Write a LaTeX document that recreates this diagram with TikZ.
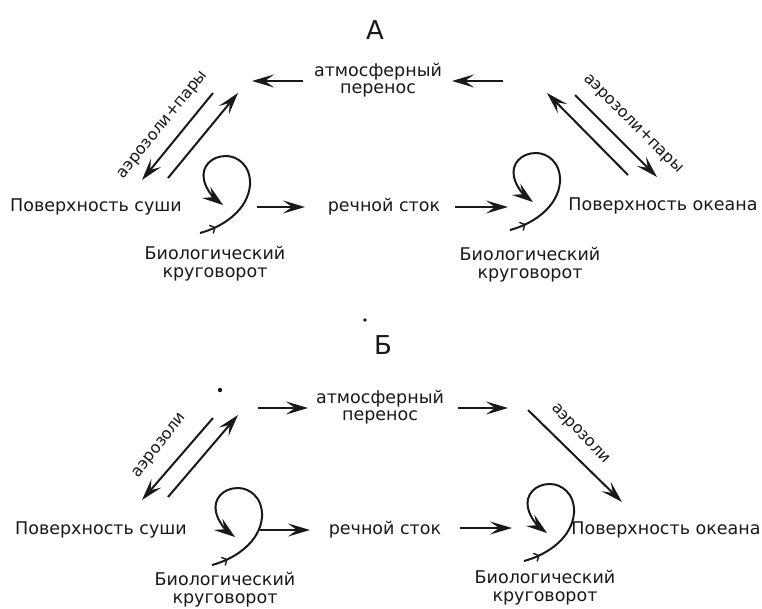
\documentclass[tikz,border=0pt]{standalone}
\usepackage{fontspec}
\setmainfont{DejaVu Sans}
\usetikzlibrary{arrows.meta,decorations.markings}
\tikzset{
  lbl/.style={font=\fontsize{17.5}{16.5}\selectfont, align=center, inner sep=0pt, text=black!90},
  biolbl/.style={font=\fontsize{17.5}{18}\selectfont, align=center, inner sep=0pt, text=black!90},
  rotlbl/.style={font=\fontsize{16}{16}\selectfont, inner sep=0pt, text=black!90},
  ttl/.style={font=\fontsize{26}{26}\selectfont, inner sep=0pt, text=black!90},
  arr/.style={line width=2pt, black!90, -{Stealth[length=22pt,width=13pt,inset=9pt]}},
  biocycle/.pic={
    \draw[line width=2pt, black!90, -{Stealth[length=21pt,width=14pt,inset=8pt]},
      postaction={decorate},
      decoration={markings, mark=at position 0.09 with {\arrow{Straight Barb[length=4pt,width=9pt,line width=1.4pt]}}}]
      (-23,28) .. controls (0,22) and (25,5) .. (27,-20)
      .. controls (28,-40) and (14,-49) .. (3,-49)
      .. controls (-12,-49) and (-22,-38) .. (-19,-25)
      .. controls (-17,-15) and (-8,-6) .. (0,0);
  }
}
\begin{document}
\begin{tikzpicture}[x=1pt,y=-1pt]
\useasboundingbox[fill=white] (0,0) rectangle (762,608);

% ---------------- Panel A ----------------
\node[ttl] (tA) at (375,30) {А};
\node[lbl] (atmA) at (378,80) {атмосферный\\перенос};
\node[lbl] (landA) at (96,207) {Поверхность суши};
\node[lbl] (riverA) at (384,207) {речной сток};
\node[lbl] (oceanA) at (663,206) {Поверхность океана};
\node[biolbl] (bioLA) at (215,264) {Биологический\\круговорот};
\node[biolbl] (bioRA) at (530,265) {Биологический\\круговорот};

\coordinate (a1s) at (303,81); \coordinate (a1e) at (252,81);
\coordinate (a2s) at (503,81); \coordinate (a2e) at (452,81);
\draw[arr] (a1s) -- (a1e);
\draw[arr] (a2s) -- (a2e);

\coordinate (dl1s) at (213,93); \coordinate (dl1e) at (142,180);
\coordinate (dl2s) at (168,178); \coordinate (dl2e) at (238,93);
\draw[arr] (dl1s) -- (dl1e);
\draw[arr] (dl2s) -- (dl2e);
\node[rotlbl, rotate=50.8] (aerLA) at (163,125) {аэрозоли+пары};

\coordinate (dr1s) at (628,175); \coordinate (dr1e) at (547,93);
\coordinate (dr2s) at (575,95); \coordinate (dr2e) at (657,177);
\draw[arr] (dr1s) -- (dr1e);
\draw[arr] (dr2s) -- (dr2e);
\node[rotlbl, rotate=-45] (aerRA) at (633,124) {аэрозоли+пары};

\coordinate (r1s) at (257,207); \coordinate (r1e) at (305,207);
\coordinate (r2s) at (455,207); \coordinate (r2e) at (508,207);
\draw[arr] (r1s) -- (r1e);
\draw[arr] (r2s) -- (r2e);

\pic at (223,205) {biocycle};
\pic at (533,202) {biocycle};

% ---------------- Panel B ----------------
\node[ttl] (tB) at (383,345) {Б};
\coordinate (dot1) at (365,320); \fill[black!90] (dot1) circle (1.8);
\coordinate (dot2) at (220,390); \fill[black!90] (dot2) circle (2.2);

\node[lbl] (atmB) at (380,407) {атмосферный\\перенос};
\node[lbl] (landB) at (101,530) {Поверхность суши};
\node[lbl] (riverB) at (385,530) {речной сток};
\node[lbl] (oceanB) at (666,530) {Поверхность океана};
\node[biolbl] (bioLB) at (225,590) {Биологический\\круговорот};
\node[biolbl] (bioRB) at (545,588) {Биологический\\круговорот};

\coordinate (b1s) at (258,408); \coordinate (b1e) at (308,408);
\coordinate (b2s) at (458,408); \coordinate (b2e) at (508,408);
\draw[arr] (b1s) -- (b1e);
\draw[arr] (b2s) -- (b2e);

\coordinate (el1s) at (213,418); \coordinate (el1e) at (142,500);
\coordinate (el2s) at (168,497); \coordinate (el2e) at (238,415);
\draw[arr] (el1s) -- (el1e);
\draw[arr] (el2s) -- (el2e);
\node[rotlbl, rotate=52] (aerLB) at (160,446) {аэрозоли};

\coordinate (er1s) at (528,410); \coordinate (er1e) at (622,502);
\draw[arr] (er1s) -- (er1e);
\node[rotlbl, rotate=-46] (aerRB) at (580,434) {аэрозоли};

\coordinate (s1s) at (260,530); \coordinate (s1e) at (310,530);
\coordinate (s2s) at (460,528); \coordinate (s2e) at (512,528);
\draw[arr] (s1s) -- (s1e);
\draw[arr] (s2s) -- (s2e);

\pic at (235,537) {biocycle};
\pic at (547,533) {biocycle};
\end{tikzpicture}
\end{document}
